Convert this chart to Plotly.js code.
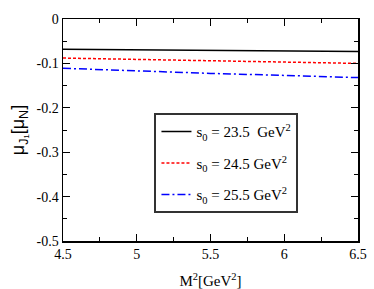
<!DOCTYPE html>
<html>
<head>
<meta charset="utf-8">
<script src="https://cdn.plot.ly/plotly-3.0.1.min.js"></script>
<style>html,body{margin:0;padding:0;background:#fff;}#chart{width:374px;height:289px;}</style>
</head>
<body>
<div id="chart"></div>
<script>
const M2 = [4.5, 5.0, 5.5, 6.0, 6.5];
const mu_s0_235 = [-0.068, -0.0695, -0.071, -0.072, -0.073];
const mu_s0_245 = [-0.088, -0.091, -0.094, -0.097, -0.100];
const mu_s0_255 = [-0.111, -0.117, -0.1225, -0.127, -0.132];
const seriesNames = [
  's<sub>0</sub> = 23.5  GeV<sup>2</sup>',
  's<sub>0</sub> = 24.5 GeV<sup>2</sup>',
  's<sub>0</sub> = 25.5 GeV<sup>2</sup>'
];
const yTickVals = [-0.5, -0.4, -0.3, -0.2, -0.1, 0];
const yTickText = ['-0.5', '-0.4', '-0.3', '-0.2', '-0.1', '0'];

const serif = 'Liberation Serif';
const traces = [
  {x: M2, y: mu_s0_235, name: seriesNames[0], legendgroup: 'a', mode: 'lines', line: {color: '#000000', width: 1.5, dash: 'solid'}},
  {x: M2, y: mu_s0_245, name: seriesNames[1], legendgroup: 'b', mode: 'lines', line: {color: '#ff0000', width: 1.5, dash: '3px,2px'}},
  {x: M2, y: mu_s0_255, name: seriesNames[2], legendgroup: 'c', mode: 'lines', line: {color: '#0000ff', width: 1.5, dash: '8px,3px,2px,3px'}}
];

const axisCommon = {
  showgrid: false, zeroline: false, showline: true, linecolor: '#000', linewidth: 1.5,
  mirror: 'allticks', ticks: 'inside', ticklen: 7, tickwidth: 1, tickcolor: '#000',
  tickfont: {family: serif, size: 14, color: '#000'}
};

const layout = {
  width: 374, height: 289,
  font: {family: serif, size: 14, color: '#000'},
  margin: {l: 63, r: 16, t: 19, b: 48},
  paper_bgcolor: '#fff', plot_bgcolor: '#fff',
  showlegend: true,
  legend: {
    x: 0.31, y: 0.575, xanchor: 'left', yanchor: 'top',
    bordercolor: '#333', borderwidth: 2, bgcolor: '#fff',
    font: {family: serif, size: 15, color: '#000'},
    itemwidth: 30, tracegroupgap: 9
  },
  xaxis: Object.assign({}, axisCommon, {
    range: [4.5, 6.5], dtick: 0.5, tick0: 4.5,
    minor: {dtick: 0.25, ticklen: 4, tickcolor: '#000', ticks: 'inside'},
    title: {text: 'M<sup>2</sup>[GeV<sup>2</sup>]', font: {family: serif, size: 15, color: '#000'}, standoff: 15}
  }),
  yaxis: Object.assign({}, axisCommon, {
    range: [-0.5, 0],
    tickvals: yTickVals,
    ticktext: yTickText,
    minor: {dtick: 0.05, ticklen: 4, tickcolor: '#000', ticks: 'inside'},
    title: {text: 'μ<sub>J₁</sub>[μ<sub>N</sub>]', font: {family: 'Liberation Sans', size: 18, color: '#000'}, standoff: 7}
  })
};

Plotly.newPlot('chart', traces, layout, {staticPlot: true, displayModeBar: false});
</script>
</body>
</html>
